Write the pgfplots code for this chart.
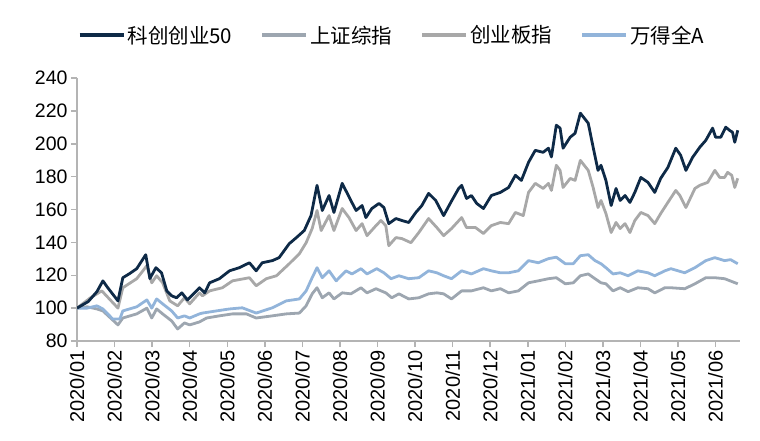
\documentclass[border=0pt]{standalone}
\usepackage{fontspec}
\setmainfont{Liberation Sans}
\newfontfamily\cjk{Noto Sans CJK SC}
\usepackage{pgfplots}
\pgfplotsset{compat=1.18}
\definecolor{kcnavy}{HTML}{0E2A47}
\definecolor{szgray}{HTML}{9DA6B0}
\definecolor{cygray}{HTML}{A8A8A8}
\definecolor{wdblue}{HTML}{92B4DA}
\definecolor{axisgray}{HTML}{B4B4B4}

\begin{document}
\begin{tikzpicture}[x=1pt,y=1pt]
\begin{axis}[
    at={(77pt,99pt)}, anchor=south west,
    scale only axis, width=663pt, height=263pt,
    xmin=0, xmax=17.65, ymin=80, ymax=240,
    axis lines*=left,
    axis line style={draw=axisgray, line width=1.5pt, -},
    tick style={draw=axisgray, line width=1.5pt},
    tick align=outside, major tick length=6pt,
    xtick={0,...,17},
    xticklabels={2020/01,2020/02,2020/03,2020/04,2020/05,2020/06,2020/07,2020/08,2020/09,2020/10,2020/11,2020/12,2021/01,2021/02,2021/03,2021/04,2021/05,2021/06},
    xticklabel style={rotate=90, anchor=east, font=\fontsize{20}{21}\selectfont},
    ytick={80,100,...,240},
    yticklabel style={font=\fontsize{19.5}{20}\selectfont},
    /pgf/number format/assume math mode=true,
    legend style={draw=none, fill=none, at={(0.475,1.163)}, anchor=center,
        legend columns=4, font=\cjk\fontsize{20.5}{22}\selectfont,
        /tikz/every even column/.append style={column sep=26pt}, inner sep=0pt},
    legend cell align=left,
    legend image code/.code={\draw[#1, line width=4pt] (0pt,0pt) -- (44pt,0pt);},
    every axis plot/.append style={line width=2.8pt, line join=round},
]
\addlegendimage{kcnavy}
\addlegendimage{szgray}
\addlegendimage{cygray}
\addlegendimage{wdblue}
\legend{科创创业50, 上证综指, 创业板指, 万得全A}

% 上证综指
\addplot[szgray, forget plot] coordinates {
(0,100) (0.27,100.8) (0.53,99.5) (0.69,98.3) (1.09,89.8) (1.22,94) (1.59,96.5) (1.86,100)
(1.99,94) (2.12,99.5) (2.28,96.5) (2.52,92.2) (2.68,87.3) (2.86,91) (3.00,89.8) (3.26,91.6)
(3.45,94) (3.79,95.3) (4.14,96.5) (4.51,96.5) (4.77,94) (5.20,95.3) (5.57,96.5) (5.92,97)
(6.10,101.4) (6.26,108.7) (6.39,112.4) (6.53,106.3) (6.71,109.3) (6.84,105.6) (7.06,109.3)
(7.29,108.7) (7.56,112.4) (7.72,109.3) (7.96,111.8) (8.22,109.3) (8.38,106.3) (8.57,108.7)
(8.83,105.6) (9.10,106.3) (9.36,108.7) (9.58,109.3) (9.76,108.7) (9.97,105.6) (10.24,110.5)
(10.50,110.5) (10.82,112.4) (11.03,110.5) (11.27,111.8) (11.49,109.3) (11.75,110.5)
(12.02,115.4) (12.28,116.6) (12.55,117.9) (12.76,118.5) (13.00,114.8) (13.21,115.4)
(13.40,119.7) (13.61,120.8) (13.79,117.9) (13.95,115.4) (14.08,114.8) (14.27,110.5)
(14.46,112.4) (14.67,110) (14.93,112.4) (15.20,111.8) (15.38,109.3) (15.65,112.4)
(15.81,112.4) (16.18,111.8) (16.45,114.8) (16.74,118.5) (16.98,118.5) (17.24,117.9) (17.59,114.8)
};

% 万得全A
\addplot[wdblue, forget plot] coordinates {
(0,100) (0.27,100) (0.53,101.4) (0.69,99.5) (0.95,93.4) (1.14,93.4) (1.22,98.3) (1.59,100.8)
(1.86,105) (1.99,100) (2.12,105.6) (2.28,102.6) (2.52,98.3) (2.68,94) (2.86,95.3) (3.00,94)
(3.26,96.5) (3.34,97) (3.71,98.3) (4.06,99.5) (4.40,100.2) (4.77,97) (5.20,100.2) (5.57,104.4)
(5.92,105.6) (6.10,110.5) (6.26,118.5) (6.39,124.6) (6.53,118.5) (6.71,122.7) (6.90,116.6)
(7.16,122.7) (7.32,120.8) (7.56,124) (7.72,120.8) (7.98,124) (8.17,121.5) (8.36,117.9)
(8.57,119.7) (8.83,117.9) (9.10,118.5) (9.36,122.7) (9.58,121.5) (9.76,119.7) (9.97,117.9)
(10.24,122.7) (10.50,120.8) (10.82,124) (11.03,122.7) (11.27,121.5) (11.49,121.5) (11.75,122.7)
(12.02,128.9) (12.28,127.6) (12.55,130.1) (12.76,131) (13.00,127) (13.21,127) (13.40,131.9)
(13.61,132.5) (13.79,128.9) (13.95,127) (14.08,124.6) (14.27,120.8) (14.46,121.5) (14.67,119.7)
(14.93,122.7) (15.20,121.5) (15.38,119.7) (15.65,122.7) (15.81,124) (16.18,121.5) (16.45,124.6)
(16.74,128.9) (16.98,130.7) (17.24,128.9) (17.40,129.5) (17.59,127)
};

% 创业板指
\addplot[cygray, forget plot] coordinates {
(0,100) (0.34,106) (0.66,110.5) (1.09,100) (1.22,112.4) (1.59,117.9) (1.86,125.8) (1.99,115.4)
(2.12,119.7) (2.28,115.4) (2.47,104.4) (2.68,101.4) (2.86,106.3) (3.00,102.6) (3.26,109.3)
(3.34,107.5) (3.53,110.5) (3.87,112.4) (4.14,116.6) (4.59,118.5) (4.77,113.6) (5.04,117.9)
(5.31,119.7) (5.65,127) (5.92,133.1) (6.10,139.8) (6.26,148.4) (6.39,159.4) (6.50,147.2)
(6.71,156.3) (6.84,147.2) (7.06,160.6) (7.24,155.1) (7.43,147.2) (7.59,151.4) (7.72,144.1)
(7.96,150.2) (8.09,153.3) (8.22,150.2) (8.30,138) (8.49,142.9) (8.65,142.3) (8.89,139.8)
(9.10,146) (9.36,154.5) (9.58,149) (9.76,144.1) (9.97,148.4) (10.24,155.1) (10.37,149)
(10.61,149) (10.82,145.4) (11.03,150.2) (11.27,152.1) (11.49,151.4) (11.67,158.2) (11.88,156.3)
(12.02,170.4) (12.20,175.9) (12.41,172.8) (12.55,175.9) (12.63,171.6) (12.76,186.9) (12.86,183.8)
(12.94,173.4) (13.13,178.9) (13.26,177.7) (13.40,189.9) (13.61,183.8) (13.74,173.4) (13.87,161.2)
(13.95,165.5) (14.08,157.6) (14.22,146) (14.35,152.1) (14.46,148.4) (14.59,151.4) (14.72,146)
(14.85,153.3) (15.01,158.2) (15.20,156.3) (15.38,151.4) (15.54,157.6) (15.73,164.3) (15.94,171.6)
(16.05,168.5) (16.21,161.2) (16.45,172.8) (16.58,174.7) (16.79,176.5) (16.98,183.8) (17.11,179.5)
(17.24,179.5) (17.32,182.6) (17.43,180.8) (17.51,173.4) (17.59,179)
};

% 科创创业50
\addplot[kcnavy, forget plot] coordinates {
(0,100) (0.3,104) (0.53,110) (0.69,116.6) (0.8,113) (1.09,104.4) (1.22,118.5) (1.4,121)
(1.59,124) (1.83,132.5) (1.94,118) (2.10,124.6) (2.25,121.5) (2.39,110.5) (2.52,107.5)
(2.65,106.3) (2.79,109.3) (2.94,105) (3.13,109.3) (3.26,112.4) (3.40,109.3) (3.53,115.4)
(3.79,117.9) (4.06,122.7) (4.32,124.6) (4.59,127.6) (4.77,122.7) (4.93,127.6) (5.20,128.9)
(5.38,130.7) (5.65,139.2) (5.84,142.9) (6.05,147.2) (6.23,156.3) (6.39,174.7) (6.53,159.4)
(6.71,168.5) (6.84,158.2) (7.06,175.9) (7.29,165.5) (7.43,159.4) (7.59,162.4) (7.69,155.1)
(7.85,160.6) (8.04,163.7) (8.17,161.2) (8.30,151.4) (8.49,154.5) (8.65,153.3) (8.83,152.1)
(9.02,158.2) (9.18,162.4) (9.36,169.8) (9.55,165.5) (9.76,156.3) (9.95,164.3) (10.16,172.8)
(10.24,174.7) (10.37,166.7) (10.50,168.5) (10.64,163.7) (10.82,160.6) (11.03,168.5) (11.27,170.4)
(11.49,173.4) (11.67,180.8) (11.83,177.7) (12.02,188.7) (12.20,196) (12.41,194.8) (12.55,197.3)
(12.63,192) (12.76,211.3) (12.86,209.5) (12.94,197.3) (13.13,204) (13.26,206.4) (13.40,218.6)
(13.61,212.5) (13.74,197.9) (13.87,183.8) (13.95,186.9) (14.08,177.7) (14.22,162.4) (14.35,172.8)
(14.46,165.5) (14.59,168.5) (14.72,164.3) (14.85,170.4) (15.01,179.5) (15.20,176.5) (15.38,170.4)
(15.54,179) (15.73,185.6) (15.94,197.3) (16.07,193) (16.21,183.8) (16.39,191.8) (16.58,197.9)
(16.74,202.1) (16.92,209.5) (17.00,204) (17.14,204) (17.27,210.1) (17.37,208.2) (17.45,207)
(17.51,200.9) (17.59,208.2)
};
\end{axis}
\pgfresetboundingbox
\path (0,0) rectangle (760,440);
\end{tikzpicture}
\end{document}
